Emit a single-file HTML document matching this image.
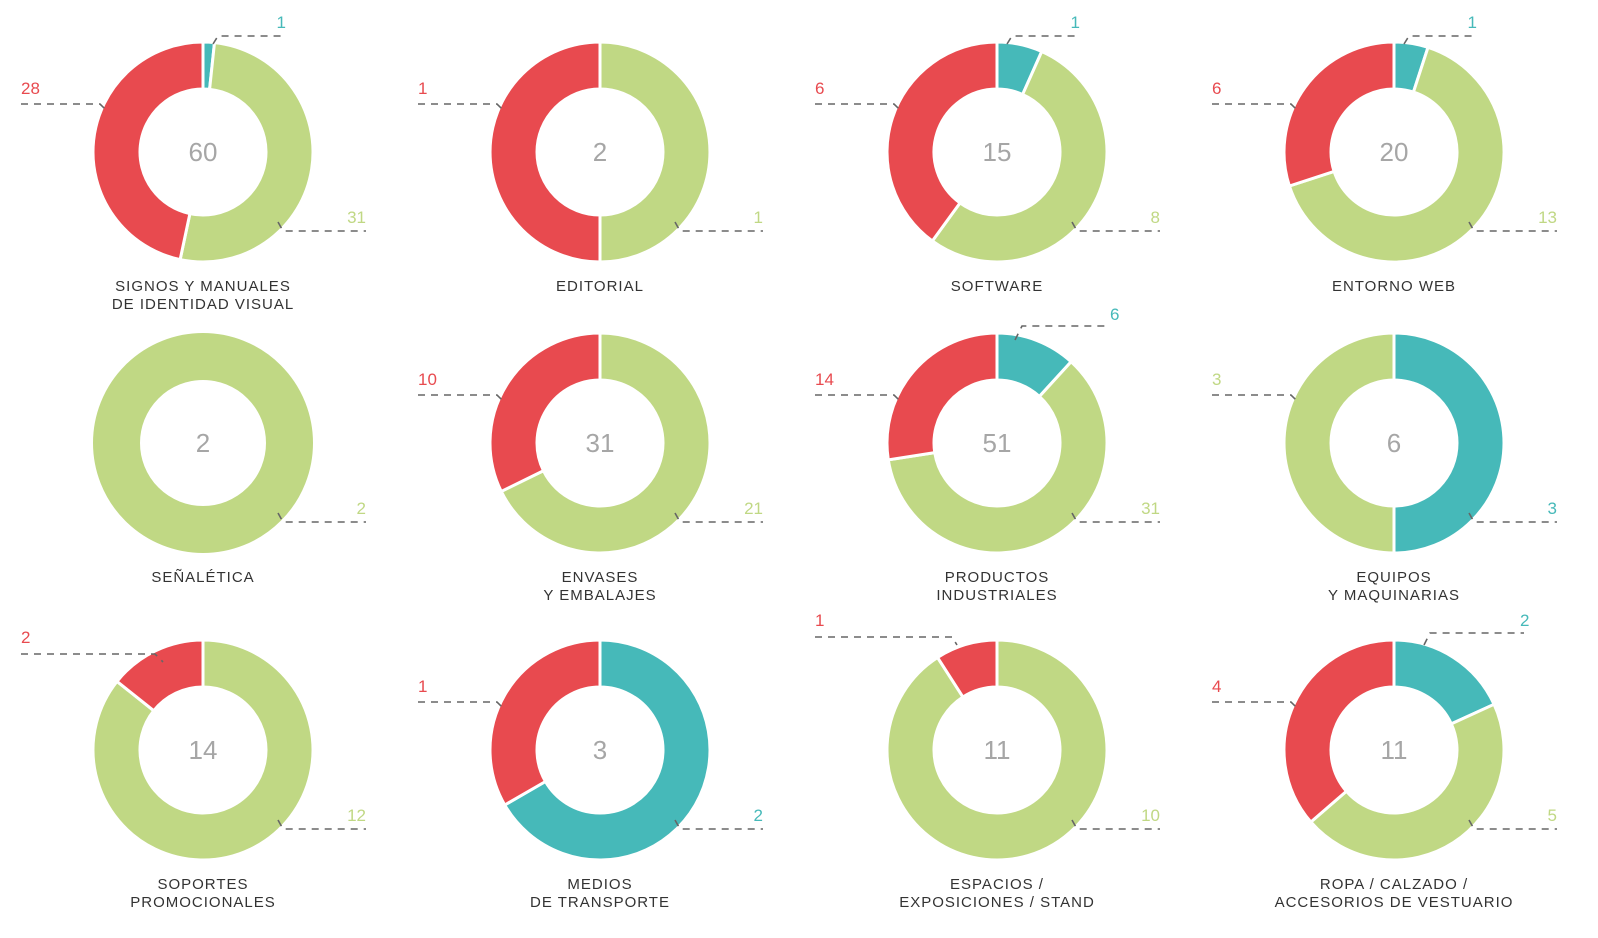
<!DOCTYPE html>
<html><head><meta charset="utf-8"><style>
html,body{margin:0;padding:0;background:#fff}
svg{display:block}
text{font-family:"Liberation Sans",sans-serif}
</style></head><body>
<svg id="c" width="1598" height="938" viewBox="0 0 1598 938"></svg>
<script>
const titles=[["SIGNOS Y MANUALES","DE IDENTIDAD VISUAL"],["EDITORIAL"],["SOFTWARE"],["ENTORNO WEB"],["SEÑALÉTICA"],["ENVASES","Y EMBALAJES"],["PRODUCTOS","INDUSTRIALES"],["EQUIPOS","Y MAQUINARIAS"],["SOPORTES","PROMOCIONALES"],["MEDIOS","DE TRANSPORTE"],["ESPACIOS /","EXPOSICIONES / STAND"],["ROPA / CALZADO /","ACCESORIOS DE VESTUARIO"]];
const tealVals=[1,0,1,1,0,0,6,3,0,2,0,2];
const greenVals=[31,1,8,13,2,21,31,3,12,0,10,5];
const redVals=[28,1,6,6,0,10,14,0,2,1,1,4];
const colors={teal:"#46b9b9",green:"#c0d884",red:"#e84a4f"};
const svg=document.getElementById('c');const NS="http://www.w3.org/2000/svg";
const cxs=[203,600,997,1394],cys=[152,443,750],R=110,r=63;
function mk(t,a,p){const e=document.createElementNS(NS,t);for(const k in a)e.setAttribute(k,a[k]);(p||svg).appendChild(e);return e;}
function pt(a,rad,cx,cy){return [cx+rad*Math.sin(a),cy-rad*Math.cos(a)];}
function arc(cx,cy,a0,a1){
 const l=(a1-a0)>Math.PI?1:0;const [x0,y0]=pt(a0,R,cx,cy),[x1,y1]=pt(a1,R,cx,cy),[x2,y2]=pt(a1,r,cx,cy),[x3,y3]=pt(a0,r,cx,cy);
 return `M${x0} ${y0}A${R} ${R} 0 ${l} 1 ${x1} ${y1}L${x2} ${y2}A${r} ${r} 0 ${l} 0 ${x3} ${y3}Z`;}
function leader(g,pts,lx,ly,txt,col,anchor){
 mk('polyline',{points:pts.map(p=>p.join(',')).join(' '),fill:'none',stroke:'#666','stroke-width':1.6,'stroke-dasharray':'7,6'},g);
 const t=mk('text',{x:lx,y:ly,fill:col,'font-size':17,'text-anchor':anchor||'start'},g);t.textContent=txt;
 
 }
titles.forEach((tt,i)=>{
 const cx=cxs[i%4],cy=cys[Math.floor(i/4)];
 const g=mk('g',{});
 
 
 const segs=[['teal',tealVals[i]],['green',greenVals[i]],['red',redVals[i]]];
 const tot=segs.reduce((s,x)=>s+x[1],0);let a=0;
 segs.forEach(([k,v])=>{if(!v)return;const a1=a+v/tot*2*Math.PI;
  let p;
  if(v===tot){p=mk('circle',{cx:cx,cy:cy,r:(R+r)/2,fill:'none',stroke:colors[k],'stroke-width':R-r},g);}
  else p=mk('path',{d:arc(cx,cy,a,a1),fill:colors[k],stroke:'#fff','stroke-width':3},g);
  
  
  a=a1;});
 const c=mk('text',{x:cx,y:cy+9,'text-anchor':'middle',fill:'#a6a6a6','font-size':26},g);c.textContent=tot;
 
 
 tt.forEach((s,j)=>{const t=mk('text',{x:cx,y:cy+139+j*18,'text-anchor':'middle',fill:'#333','font-size':15,'letter-spacing':'1'},g);t.textContent=s;
  
  });
 const leftVal=redVals[i]?['red',redVals[i]]:(i===7?['green',greenVals[i]]:null);
 if(leftVal){
  if(i===8) leader(g,[[cx-182,cy-96],[cx-48,cy-96],[cx-40,cy-88]],cx-182,cy-107,leftVal[1],colors.red);
  else if(i===10) leader(g,[[cx-182,cy-113],[cx-45,cy-113],[cx-40,cy-105]],cx-182,cy-124,leftVal[1],colors.red);
  else leader(g,[[cx-182,cy-48],[cx-103,cy-48],[cx-97,cy-42]],cx-182,cy-58,leftVal[1],colors[leftVal[0]]);
 }
 const brVal=(i===7||i===9)?['teal',tealVals[i]]:(greenVals[i]?['green',greenVals[i]]:null);
 if(brVal) leader(g,[[cx+75,cy+70],[cx+80,cy+79],[cx+163,cy+79]],cx+163,cy+71,brVal[1],colors[brVal[0]],'end');
 if(tealVals[i]&&i!==7&&i!==9){
  if(i===6) leader(g,[[cx+18,cy-103],[cx+25,cy-117],[cx+110,cy-117]],cx+113,cy-123,tealVals[i],colors.teal);
  else if(i===11) leader(g,[[cx+30,cy-105],[cx+36,cy-117],[cx+130,cy-117]],cx+126,cy-124,tealVals[i],colors.teal,'start');
  else leader(g,[[cx+10,cy-108],[cx+15,cy-116],[cx+83,cy-116]],cx+83,cy-124,tealVals[i],colors.teal,'end');
 }
});
</script>
</body></html>
